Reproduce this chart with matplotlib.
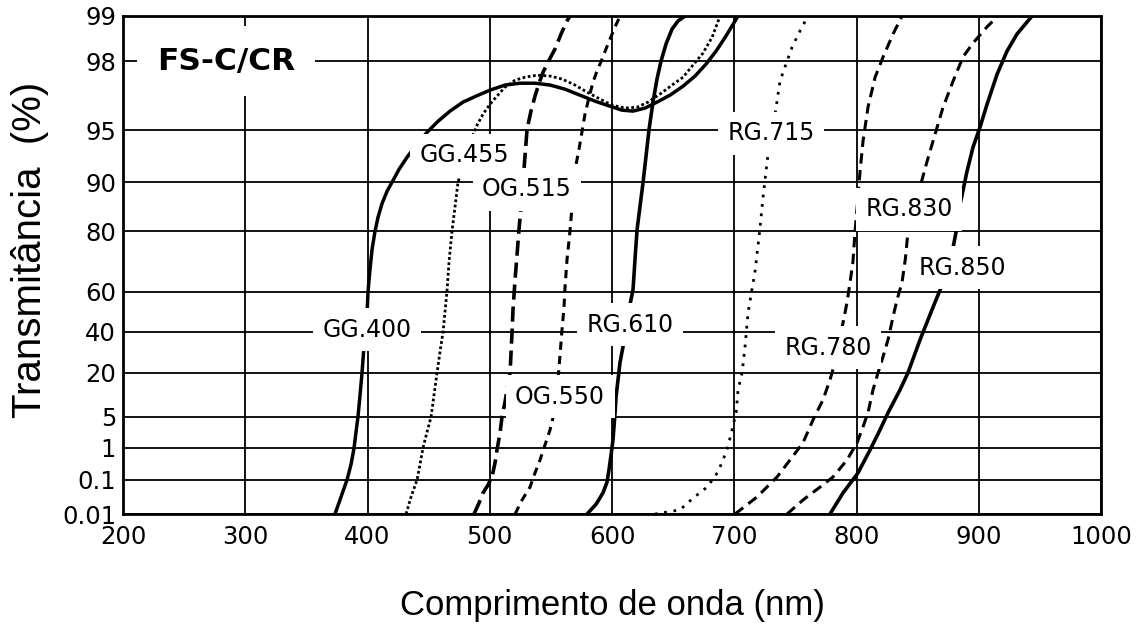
import numpy as np
import matplotlib
matplotlib.use("Agg")
import matplotlib.pyplot as plt

# eixo y nao linear: valores das marcas e altura relativa de cada uma
y_ticks = [0.01, 0.1, 1, 5, 20, 40, 60, 80, 90, 95, 98, 99]
y_tick_labels = ["0.01", "0.1", "1", "5", "20", "40", "60", "80", "90", "95", "98", "99"]
y_scale_pos = [0, 34, 66, 97, 141, 182, 222, 282, 331, 383, 452, 497]
x_ticks = [200, 300, 400, 500, 600, 700, 800, 900, 1000]

# curvas (comprimento de onda em nm, transmitancia em %)
gg400_nm = [373.4, 378.3, 383.2, 386.6, 389.0, 390.6, 392.2, 393.9, 395.5, 397.1, 399.6, 400.4,
            402.0, 403.7, 406.1, 408.6, 411.9, 416.0, 420.0, 425.8, 432.3, 439.7, 448.7, 457.7,
            467.5, 478.1, 488.8, 500.2, 512.5, 524.7, 537.0, 549.3, 561.6, 573.8, 586.1, 598.4,
            608.2, 617.2, 627.0, 636.8, 647.4, 658.1, 667.9, 676.9, 685.1, 693.3, 703.1]
gg400_t = [0.01, 0.055, 0.1, 0.55, 1, 3.06, 5, 12.5, 20, 32.7, 48.5, 60,
           67.3, 74, 80, 82.9, 85.7, 88.2, 90, 91.25, 92.4, 93.56, 94.8, 95.39,
           95.83, 96.22, 96.48, 96.74, 96.96, 97.04, 97.04, 96.96, 96.78, 96.52, 96.26, 96.04,
           95.87, 95.83, 95.96, 96.22, 96.52, 96.91, 97.35, 97.87, 98.22, 98.56, 99]

gg455_nm = [431.5, 435.6, 440.5, 443.0, 445.4, 448.7, 452.0, 454.4, 456.9, 459.3, 461.8, 463.4,
            465.0, 466.7, 469.1, 471.6, 474.0, 477.3, 481.4, 485.5, 489.6, 494.5, 500.2, 505.9,
            512.5, 520.7, 528.8, 538.7, 549.3, 559.1, 569.7, 579.6, 590.2, 600.0, 610.6, 620.5,
            629.5, 639.3, 649.1, 658.1, 666.3, 674.5, 681.9, 688.4]
gg455_t = [0.01, 0.055, 0.1, 0.55, 1, 3.06, 5, 12.5, 20, 30.2, 40, 50,
           60, 70, 80, 85.1, 90, 91.25, 92.69, 94.33, 95.22, 95.7, 96.13, 96.48,
           96.87, 97.17, 97.3, 97.39, 97.35, 97.22, 96.96, 96.65, 96.35, 96.09, 95.96, 96.0,
           96.22, 96.57, 96.96, 97.3, 97.83, 98.18, 98.53, 99]

og515_nm = [487.1, 491.2, 494.5, 498.6, 501.8, 504.3, 505.9, 508.4, 510.0, 512.5, 514.1, 516.6,
            517.4, 518.2, 519.0, 520.7, 522.3, 523.9, 525.6, 527.2, 528.8, 530.5, 533.7, 537.0,
            540.3, 543.6, 548.5, 553.4, 558.3, 563.2, 565.6]
og515_t = [0.01, 0.039, 0.066, 0.087, 0.184, 0.578, 0.944, 2.94, 5, 10.1, 14.2, 20,
           29.8, 39.5, 51, 64, 72.3, 80.4, 85.1, 90, 92.5, 95.04, 95.83, 96.48,
           97.04, 97.52, 98.02, 98.27, 98.6, 98.89, 99]

og550_nm = [520.7, 526.4, 532.9, 537.0, 541.1, 545.2, 549.3, 551.7, 553.4, 555.0, 555.8, 557.5,
            559.1, 560.7, 561.6, 563.2, 565.6, 567.3, 568.1, 570.6, 573.0, 575.5, 577.9, 581.2,
            584.5, 587.7, 591.8, 595.1, 598.4, 602.5, 606.6]
og550_t = [0.01, 0.047, 0.081, 0.297, 0.66, 1.39, 3.32, 4.87, 9.1, 13.5, 17.6, 28.8,
           41, 52, 61.7, 70.7, 80, 85.1, 90, 91.73, 93.17, 94.9, 95.7, 96.43,
           97.09, 97.57, 98.04, 98.27, 98.49, 98.76, 99]

rg610_nm = [579.6, 587.0, 592.6, 595.9, 597.5, 599.2, 600.8, 601.6, 602.5, 603.3, 604.9, 606.5,
            609.0, 610.6, 613.1, 614.7, 617.2, 618.8, 620.5, 622.9, 625.4, 627.8, 630.3, 633.5,
            636.8, 640.1, 644.2, 649.1, 654.0, 659.7]
rg610_t = [0.01, 0.036, 0.066, 0.094, 0.38, 0.8, 2.03, 3.71, 6.4, 11.8, 17.6, 24.9,
           32.7, 40, 47, 53.5, 60.7, 70.7, 80.4, 85.1, 90, 92.5, 95.04, 96.22,
           97.22, 98.0, 98.38, 98.71, 98.89, 99]

rg715_nm = [635, 655.6, 666.3, 677.7, 686.7, 694.1, 698.2, 701.5, 703.1, 706.4, 708.8, 711.3,
            714.5, 717, 721.1, 723.5, 727.6, 731, 733.4, 737.4, 743.2, 747.3, 753.8, 760.3]
rg715_t = [0.01, 0.021, 0.052, 0.081, 0.325, 0.944, 3.32, 6.4, 14.2, 20, 32.7, 49.5,
           60.7, 66.7, 80.8, 86.9, 92.7, 94.7, 95.7, 97.13, 98.0, 98.31, 98.67, 99]

rg780_nm = [700.6, 718.6, 735, 745.6, 756.2, 764.4, 772.6, 778.3, 782.4, 789, 792.2, 794.7,
            797.1, 798.8, 801.2, 802.9, 805.3, 809.4, 815.2, 821.7, 829.9, 837.2]
rg780_t = [0.01, 0.055, 0.184, 0.66, 1.65, 4.6, 10.8, 17.6, 24.9, 44.5, 54.5, 63,
           70, 80, 86.9, 91.06, 93.94, 96.0, 97.3, 98.09, 98.6, 99]

rg830_nm = [743.2, 756.2, 770.1, 780.8, 792.2, 800.4, 805.3, 809.4, 813.5, 817.6, 821.7, 825.8,
            829.9, 833.2, 837.2, 840.0, 842.1, 846.2, 851.9, 857.7, 864.2, 870.8, 879, 887.1,
            895.3, 906.8, 915.8]
rg830_t = [0.01, 0.047, 0.081, 0.184, 0.66, 1.65, 3.7, 6.4, 14.2, 20, 27.8, 36.1,
           47.5, 56, 63, 71, 80, 83.5, 89, 92, 94.6, 96.0, 97.13, 98.09,
           98.4, 98.76, 99]

rg850_nm = [778.3, 789, 801.2, 811.1, 819.2, 825.8, 835.6, 842.1, 852, 861.8, 870.8, 874.9,
            879, 883.1, 884.7, 890.4, 895.3, 901, 906.8, 915, 923.1, 931.3, 943.6]
rg850_t = [0.01, 0.066, 0.297, 0.944, 3.32, 6.4, 14.2, 20, 36.1, 51, 63, 70,
           74.7, 82, 85.5, 91.06, 93.37, 95.13, 96.13, 97.43, 98.22, 98.6, 99]

# rotulos das curvas: texto, comprimento de onda, transmitancia
label_names = ["GG.400", "GG.455", "OG.515", "OG.550", "RG.610",
               "RG.715", "RG.780", "RG.830", "RG.850"]
label_nm = [399.6, 479, 530.5, 557.5, 614.7, 730, 776.7, 843, 887]
label_t = [41, 92.6, 88.6, 11.8, 43.5, 94.7, 32.2, 84.5, 68]


def fwd(v):
    return np.interp(v, y_ticks, y_scale_pos)


def inv(p):
    return np.interp(p, y_scale_pos, y_ticks)


plt.rcParams['font.family'] = ['DejaVu Sans']

fig = plt.figure(figsize=(11.36, 6.27), dpi=100)
ax = fig.add_axes([0.1083, 0.1802, 0.8609, 0.7943])
ax.set_yscale('function', functions=(fwd, inv))

ax.plot(gg400_nm, gg400_t, color='k', lw=2.5)
ax.plot(gg455_nm, gg455_t, color='k', lw=2.0, linestyle=(0, (1.0, 0.9)))
ax.plot(og515_nm, og515_t, color='k', lw=2.6, linestyle=(0, (4.2, 1.9)))
ax.plot(og550_nm, og550_t, color='k', lw=2.2, linestyle=(0, (2.7, 2.0)))
ax.plot(rg610_nm, rg610_t, color='k', lw=2.6)
ax.plot(rg715_nm, rg715_t, color='k', lw=2.0, linestyle=(0, (1.0, 2.4)))
ax.plot(rg780_nm, rg780_t, color='k', lw=2.2, linestyle=(0, (3.4, 2.1)))
ax.plot(rg830_nm, rg830_t, color='k', lw=2.2, linestyle=(0, (3.4, 2.1)))
ax.plot(rg850_nm, rg850_t, color='k', lw=2.6)

for name, x, y in zip(label_names, label_nm, label_t):
    ax.text(x, y, name, fontsize=17, ha='center', va='center', zorder=5,
            bbox=dict(boxstyle='square,pad=0.4', fc='white', ec='none'))

ax.text(284.3, 98, "FS-C/CR", fontsize=22.5, fontweight='bold', ha='center', va='center',
        zorder=5, bbox=dict(boxstyle='square,pad=0.65', fc='white', ec='none'))

ax.set_xlim(200, 1000)
ax.set_ylim(0.01, 99)
ax.set_xticks(x_ticks)
ax.set_yticks(y_ticks)
ax.set_yticklabels(y_tick_labels)
ax.minorticks_off()
ax.tick_params(length=0, labelsize=17.5)
ax.tick_params(axis='y', pad=5)
ax.tick_params(axis='x', pad=8)
ax.grid(True, color='k', lw=1.3)
ax.set_axisbelow(True)
for s in ax.spines.values():
    s.set_linewidth(2)
    s.set_zorder(6)

ax.set_xlabel("Comprimento de onda (nm)", fontsize=25, family=['Liberation Sans'])
ax.set_ylabel("Transmitância  (%)", fontsize=29, family=['Liberation Sans'])
ax.xaxis.set_label_coords(0.5, -0.15)
ax.yaxis.set_label_coords(-0.076, 0.53)

plt.savefig('out.png', dpi=100)
